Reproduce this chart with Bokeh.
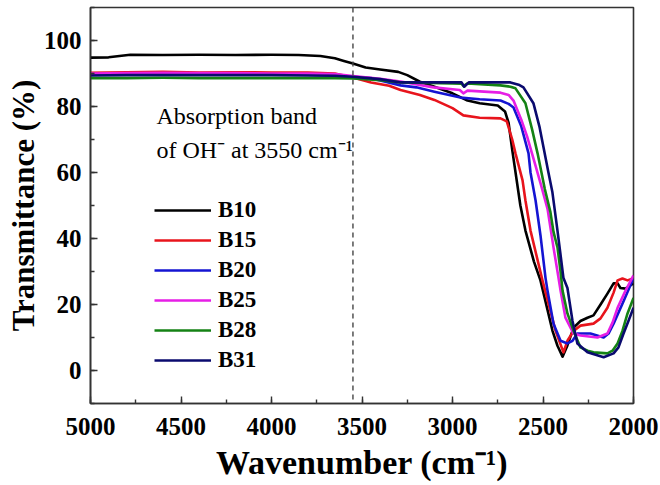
from bokeh.plotting import figure
from bokeh.models import Range1d, Span, Label, Legend, LegendItem, SingleIntervalTicker
from bokeh.embed import file_html
from bokeh.resources import INLINE

# ---- data ----
series_names = ["B10", "B15", "B20", "B25", "B28", "B31"]
series_colors = ["#000000", "#e8141c", "#1414d2", "#e61ee6", "#148214", "#0a0a6e"]

wn_b10 = [5000, 4900, 4780, 4600, 4400, 4200, 4000, 3850, 3730, 3650, 3600, 3550, 3480, 3400, 3300,
          3250, 3180, 3100, 3000, 2917, 2850, 2750, 2710, 2690, 2669, 2645, 2625, 2597, 2550, 2514,
          2480, 2448, 2420, 2392, 2365, 2331, 2293, 2254, 2221, 2182, 2144, 2110, 2088, 2072, 2044, 2000]
t_b10 = [94.8, 94.9, 95.7, 95.6, 95.7, 95.6, 95.7, 95.6, 95.3, 94.6, 93.8, 93.0, 91.8, 91.2, 90.5,
         89.5, 87.5, 86.0, 84.0, 81.8, 81.0, 80.3, 78.5, 75.0, 66.5, 57.5, 50.0, 42.4, 33.0, 27.3,
         19.5, 12.1, 7.5, 4.2, 7.6, 13.0, 15.0, 16.0, 16.7, 20.0, 23.3, 26.4, 26.4, 25.0, 24.8, 26.4]

wn_b15 = [5000, 4800, 4600, 4400, 4200, 4000, 3800, 3650, 3550, 3450, 3350, 3287, 3180, 3100, 3000,
          2940, 2850, 2735, 2700, 2670, 2652, 2613, 2597, 2569, 2503, 2431, 2387, 2365, 2331, 2293,
          2221, 2182, 2144, 2110, 2088, 2061, 2033, 2000]
t_b15 = [90.2, 90.4, 90.5, 90.3, 90.4, 90.3, 90.3, 90.0, 88.8, 87.3, 86.3, 85.0, 83.5, 82.0, 79.5,
         77.3, 76.6, 76.4, 75.5, 70.0, 65.8, 57.6, 51.5, 42.4, 27.3, 12.1, 5.5, 9.0, 12.0, 13.6,
         14.2, 15.8, 19.0, 23.6, 27.3, 27.9, 27.3, 28.0]

wn_b20 = [5000, 4800, 4600, 4400, 4200, 4000, 3800, 3650, 3550, 3450, 3287, 3200, 3100, 2956, 2850,
          2735, 2690, 2663, 2620, 2580, 2569, 2541, 2514, 2486, 2475, 2442, 2403, 2365, 2337, 2310,
          2238, 2165, 2138, 2110, 2055, 2000]
t_b20 = [89.6, 89.7, 89.8, 89.7, 89.7, 89.7, 89.6, 89.4, 89.0, 88.6, 86.4, 85.8, 84.5, 82.7, 82.2,
         81.8, 80.8, 79.7, 74.0, 65.8, 60.0, 51.5, 41.0, 28.0, 24.2, 14.2, 9.0, 8.2, 9.0, 11.2,
         11.2, 10.0, 11.2, 14.2, 21.0, 28.0]

wn_b25 = [5000, 4800, 4600, 4400, 4200, 4000, 3800, 3650, 3550, 3400, 3287, 3105, 2960, 2940, 2917,
          2735, 2690, 2663, 2620, 2586, 2541, 2510, 2475, 2442, 2420, 2403, 2376, 2348, 2331, 2293,
          2199, 2144, 2116, 2088, 2044, 2000]
t_b25 = [90.0, 90.1, 90.2, 90.1, 90.1, 90.0, 90.0, 89.8, 89.2, 88.4, 87.6, 85.8, 85.0, 84.0, 84.8,
         84.2, 83.5, 81.8, 76.0, 70.6, 62.0, 56.0, 49.0, 37.3, 30.0, 24.2, 16.0, 13.0, 11.2, 10.6,
         10.0, 11.2, 14.5, 19.0, 24.2, 28.8]

wn_b28 = [5000, 4800, 4600, 4400, 4200, 4000, 3800, 3650, 3550, 3400, 3287, 3000, 2950, 2940, 2917,
          2735, 2680, 2652, 2597, 2560, 2530, 2490, 2459, 2442, 2420, 2403, 2392, 2365, 2331, 2293,
          2254, 2221, 2144, 2116, 2088, 2061, 2033, 2000]
t_b28 = [88.6, 88.6, 88.7, 88.6, 88.6, 88.6, 88.6, 88.6, 88.5, 88.0, 87.3, 87.0, 86.9, 86.2, 87.0,
         86.4, 86.0, 85.5, 81.0, 73.0, 65.8, 55.0, 48.0, 42.0, 37.3, 30.0, 24.2, 17.3, 12.0, 7.0,
         6.0, 5.5, 5.2, 6.0, 8.2, 12.0, 17.3, 22.0]

wn_b31 = [5000, 4800, 4600, 4400, 4200, 4000, 3800, 3650, 3550, 3400, 3287, 3000, 2950, 2935, 2910,
          2845, 2680, 2630, 2608, 2553, 2520, 2497, 2470, 2448, 2420, 2403, 2387, 2365, 2337, 2310,
          2254, 2165, 2110, 2083, 2055, 2028, 2000]
t_b31 = [89.4, 89.5, 89.5, 89.5, 89.5, 89.5, 89.4, 89.3, 89.0, 88.3, 87.3, 87.3, 87.3, 86.0, 87.3,
         87.3, 87.3, 86.5, 85.8, 81.0, 74.0, 67.6, 60.0, 54.0, 42.4, 35.0, 28.0, 25.0, 15.0, 8.2,
         5.5, 4.0, 5.2, 7.0, 11.2, 15.0, 19.0]

series_x = [wn_b10, wn_b15, wn_b20, wn_b25, wn_b28, wn_b31]
series_y = [t_b10, t_b15, t_b20, t_b25, t_b28, t_b31]

oh_band = 3550

SERIF = "Liberation Serif"
TICKFONT = "Times"

p = figure(width=660, height=485, output_backend="svg", toolbar_location=None,
           x_range=Range1d(5000, 2000), y_range=Range1d(-10, 110),
           min_border_left=90, min_border_right=27, min_border_top=7, min_border_bottom=82)
p.background_fill_color = "white"
p.border_fill_color = "white"
p.outline_line_color = "#333333"
p.outline_line_width = 1.6
p.xgrid.visible = False
p.ygrid.visible = False

renderers = []
for xs, ys, c in zip(series_x, series_y, series_colors):
    r = p.line(xs, ys, line_color=c, line_width=2.6, line_join="round")
    renderers.append(r)

p.add_layout(Span(location=oh_band, dimension="height", line_color="#444444",
                  line_width=1.4, line_dash="5 4"))

for ax in (p.xaxis[0], p.yaxis[0]):
    ax.major_tick_in = 7
    ax.major_tick_out = 0
    ax.minor_tick_in = 4
    ax.minor_tick_out = 0
    ax.axis_line_color = "#333333"
    ax.axis_line_width = 1.6
    ax.major_tick_line_color = "#333333"
    ax.minor_tick_line_color = "#333333"
    ax.major_tick_line_width = 1.4
    ax.minor_tick_line_width = 1.4
    ax.major_label_text_font = TICKFONT
    ax.major_label_text_font_style = "bold"
    ax.major_label_text_font_size = "25px"
    ax.major_label_text_color = "black"
    ax.axis_label_text_font = SERIF
    ax.axis_label_text_font_style = "bold"
    ax.axis_label_text_color = "black"

p.xaxis[0].ticker = SingleIntervalTicker(interval=500, num_minor_ticks=2)
p.yaxis[0].ticker = SingleIntervalTicker(interval=20, num_minor_ticks=2)
p.xaxis[0].axis_label = "Wavenumber (cm\u207b\u00b9)"
p.yaxis[0].axis_label = "Transmittance (%)"
p.xaxis[0].axis_label_text_font_size = "34px"
p.yaxis[0].axis_label_text_font_size = "31px"
p.xaxis[0].major_label_standoff = 14
p.xaxis[0].axis_label_standoff = 6
p.yaxis[0].major_label_standoff = 9
p.yaxis[0].axis_label_standoff = 0

p.add_layout(Label(x=4636, y=77.2, text="Absorption band", text_font=TICKFONT,
                   text_font_size="24px", text_color="black", text_baseline="alphabetic"))
p.add_layout(Label(x=4636, y=66.9, text="of OH\u207b at 3550 cm\u207b\u00b9", text_font=TICKFONT,
                   text_font_size="24px", text_color="black", text_baseline="alphabetic"))

legend = Legend(items=[LegendItem(label=n, renderers=[r]) for n, r in zip(series_names, renderers)],
                location=(64, 28), orientation="vertical",
                background_fill_alpha=0, border_line_alpha=0,
                padding=0, margin=0, spacing=0,
                glyph_width=57, glyph_height=30, label_height=30, label_standoff=7,
                label_text_font=SERIF, label_text_font_style="bold",
                label_text_font_size="23px", label_text_color="black")
p.add_layout(legend, "center")

open("out.html", "w").write(file_html(p, INLINE))
